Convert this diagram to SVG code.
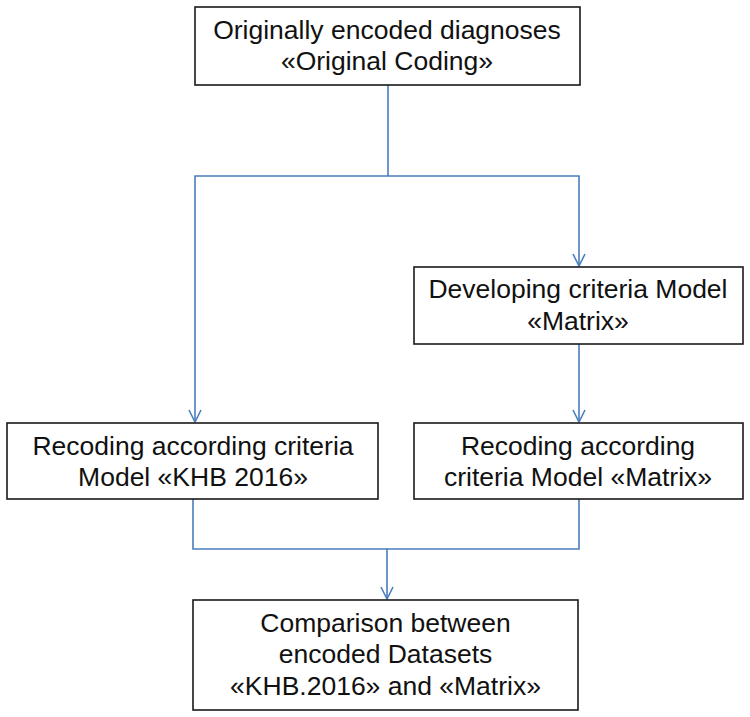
<svg xmlns="http://www.w3.org/2000/svg" width="750" height="717" viewBox="0 0 750 717">
<style>
.box{fill:#fff;stroke:#1a1a1a;stroke-width:1.6}
.t{font-family:"Liberation Sans",Arial,sans-serif;font-size:26.5px;fill:#111;text-anchor:middle}
.c{fill:none;stroke:#4a7ebb;stroke-width:1.6}
</style>
<defs>
<marker id="arr" markerUnits="userSpaceOnUse" markerWidth="16" markerHeight="16" viewBox="-1 -8 14 16" refX="12" refY="0" orient="auto">
<path d="M0,-6 L12,0 L0,6" fill="none" stroke="#4a7ebb" stroke-width="1.6"/>
</marker>
</defs>
<rect width="750" height="717" fill="#fff"/>
<g id="connectors">
<path class="c" d="M388,85 V176"/>
<path class="c" d="M388,176 H195 V422" marker-end="url(#arr)"/>
<path class="c" d="M388,176 H579 V266" marker-end="url(#arr)"/>
<path class="c" d="M579,344 V422" marker-end="url(#arr)"/>
<path class="c" d="M193,499 V549 H387 V599" marker-end="url(#arr)"/>
<path class="c" d="M579,499 V549 H387"/>
</g>
<g id="original">
<rect class="box" x="195" y="7" width="385" height="78"/>
<text class="t" x="387" y="39">Originally encoded diagnoses</text>
<text class="t" x="387" y="70">«Original Coding»</text>
</g>
<g id="developing">
<rect class="box" x="414" y="267" width="329" height="77"/>
<text class="t" x="578" y="298">Developing criteria Model</text>
<text class="t" x="578" y="330">«Matrix»</text>
</g>
<g id="recoding-khb">
<rect class="box" x="7" y="423" width="371" height="76"/>
<text class="t" x="193" y="455">Recoding according criteria</text>
<text class="t" x="193" y="486">Model «KHB 2016»</text>
</g>
<g id="recoding-matrix">
<rect class="box" x="414" y="423" width="329" height="76"/>
<text class="t" x="578" y="455">Recoding according</text>
<text class="t" x="578" y="486">criteria Model «Matrix»</text>
</g>
<g id="comparison">
<rect class="box" x="193" y="600" width="385" height="110"/>
<text class="t" x="385.5" y="632">Comparison between</text>
<text class="t" x="385.5" y="663">encoded Datasets</text>
<text class="t" x="385.5" y="695">«KHB.2016» and «Matrix»</text>
</g>
</svg>
